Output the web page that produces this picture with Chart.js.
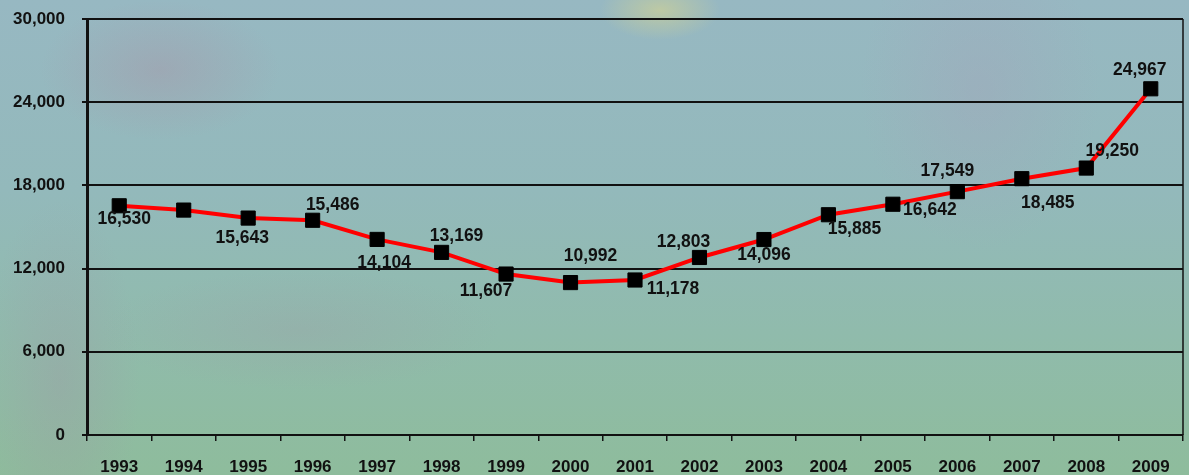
<!DOCTYPE html>
<html>
<head>
<meta charset="utf-8">
<script src="https://cdn.jsdelivr.net/npm/chart.js@4.4.1/dist/chart.umd.min.js"></script>
<style>
  html, body { margin: 0; padding: 0; }
  body {
    width: 1189px; height: 475px; overflow: hidden;
    background:
      radial-gradient(ellipse 120px 70px at 160px 70px, rgba(170,140,160,0.35), rgba(170,140,160,0) 100%),
      radial-gradient(ellipse 60px 30px at 660px 10px, rgba(220,215,140,0.55), rgba(220,215,140,0) 100%),
      radial-gradient(ellipse 120px 160px at 980px 90px, rgba(165,160,185,0.35), rgba(165,160,185,0) 100%),
      radial-gradient(ellipse 200px 60px at 300px 330px, rgba(160,150,165,0.25), rgba(160,150,165,0) 100%),
      radial-gradient(ellipse 80px 180px at 60px 380px, rgba(160,145,165,0.3), rgba(160,145,165,0) 100%),
      linear-gradient(180deg, #97b8c2 0%, #93b9bb 40%, #90bbac 70%, #8ebc9c 100%);
  }
  #wrap { position: relative; width: 1189px; height: 475px; }
</style>
</head>
<body>
<div id="wrap"><canvas id="growthChart"></canvas></div>
<script>
const years = ['1993','1994','1995','1996','1997','1998','1999','2000','2001','2002','2003','2004','2005','2006','2007','2008','2009']
const totals = [16530, 16220, 15643, 15486, 14104, 13169, 11607, 10992, 11178, 12803, 14096, 15885, 16642, 17549, 18485, 19250, 24967]
// which points carry a value label (1994 has none)
const showLabel = [true, false, true, true, true, true, true, true, true, true, true, true, true, true, true, true, true]
const yTicks = [0, 6000, 12000, 18000, 24000, 30000]

// label placement relative to each marker
const labelOffsets = [
  [5, 13], [0, 0], [-6, 20], [20, -15], [7, 24], [15, -16], [-20, 17], [20, -26], [38, 9],
  [-16, -15], [0, 16], [26, 14], [37, 6], [-10, -20], [26, 24], [26, -17], [-11, -19]
]

const fmt = v => v.toLocaleString('en-US')
const boldFont = { family: 'Liberation Sans, Arial, sans-serif', size: 17, weight: 'bold' }

const valueLabels = {
  id: 'valueLabels',
  afterDatasetsDraw(chart) {
    const ctx = chart.ctx
    const meta = chart.getDatasetMeta(0)
    ctx.save()
    ctx.font = 'bold 17.5px "Liberation Sans", Arial, sans-serif'
    ctx.fillStyle = '#111'
    ctx.textAlign = 'center'
    ctx.textBaseline = 'middle'
    meta.data.forEach((pt, i) => {
      if (!showLabel[i]) return
      ctx.fillText(fmt(totals[i]), pt.x + labelOffsets[i][0], pt.y + labelOffsets[i][1])
    })
    ctx.restore()
  }
}

// thin frame line on the right side of the plot
const rightFrame = {
  id: 'rightFrame',
  beforeDatasetsDraw(chart) {
    const { ctx, chartArea } = chart
    ctx.save()
    ctx.strokeStyle = '#111'
    ctx.lineWidth = 1.5
    ctx.beginPath()
    ctx.moveTo(chartArea.right, chartArea.top)
    ctx.lineTo(chartArea.right, chartArea.bottom)
    ctx.stroke()
    ctx.restore()
  }
}

const ctx = document.getElementById('growthChart').getContext('2d')
new Chart(ctx, {
  type: 'line',
  data: {
    labels: years,
    datasets: [{
      data: totals,
      borderColor: '#ff0000',
      borderWidth: 4,
      tension: 0,
      pointStyle: 'rect',
      pointRadius: 10,
      pointHoverRadius: 10,
      pointBackgroundColor: '#000',
      pointBorderColor: '#000',
      pointBorderWidth: 1
    }]
  },
  options: {
    responsive: true,
    maintainAspectRatio: false,
    animation: false,
    events: [],
    layout: { autoPadding: false, padding: { top: 19, right: 6, left: 0, bottom: 0 } },
    plugins: { legend: { display: false }, tooltip: { enabled: false } },
    scales: {
      x: {
        offset: true,
        grid: { offset: true, drawOnChartArea: false, drawTicks: true, tickLength: 6, color: '#111', lineWidth: 1.5 },
        border: { color: '#111', width: 2 },
        ticks: { color: '#111', font: boldFont, padding: 16, maxRotation: 0, autoSkip: false },
        afterFit(scale) { scale.height = 40 }
      },
      y: {
        min: 0,
        max: 30000,
        afterBuildTicks(scale) { scale.ticks = yTicks.map(v => ({ value: v })) },
        grid: { color: '#111', lineWidth: 2, tickLength: 5 },
        border: { color: '#111', width: 3 },
        ticks: { color: '#111', font: boldFont, padding: 17, callback: v => fmt(v) },
        afterFit(scale) {
          scale.width = 87
          scale.paddingTop = 0
          scale.paddingBottom = 0
        }
      }
    }
  },
  plugins: [rightFrame, valueLabels]
})
</script>
</body>
</html>
